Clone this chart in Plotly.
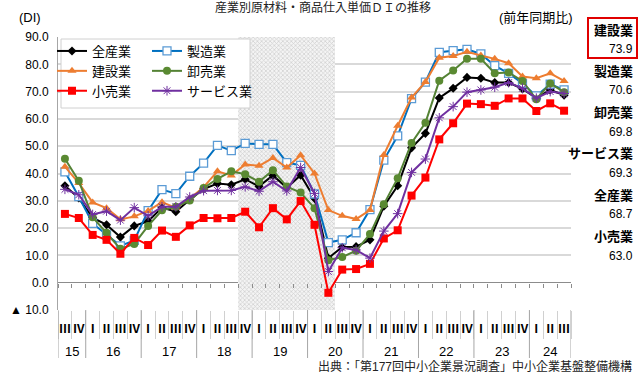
import plotly.graph_objects as go

# ---------------- data ----------------
years = ["15", "16", "17", "18", "19", "20", "21", "22", "23", "24"]
quarter_names = ["Ⅰ", "Ⅱ", "Ⅲ", "Ⅳ"]
first_quarter = 2          # series starts at 2015 Ⅲ
n_points = 37              # ... and ends at 2024 Ⅲ

zensangyo = [35.5, 31.0, 23.8, 21.2, 16.7, 20.8, 22.5, 27.5, 26.0, 30.4, 34.3, 36.3, 35.9,
             37.9, 35.3, 39.3, 34.8, 39.4, 30.9, 9.0, 13.1, 13.2, 15.7, 28.0, 35.5, 49.4,
             54.7, 67.7, 71.2, 75.2, 74.9, 73.3, 73.3, 71.0, 67.6, 70.6, 68.7]
seizo = [40.6, 31.5, 21.7, 17.5, 13.5, 15.5, 26.4, 34.1, 32.6, 39.0, 43.8, 50.3, 48.4,
         51.0, 50.7, 50.7, 44.0, 43.0, 32.5, 14.7, 15.7, 18.3, 26.8, 44.9, 53.8, 67.4,
         73.5, 84.4, 85.0, 85.5, 83.8, 79.5, 76.7, 73.0, 68.4, 72.7, 70.6]
kensetsu = [42.5, 36.5, 29.4, 27.3, 23.2, 24.3, 26.3, 29.5, 27.4, 30.8, 35.0, 40.8, 39.3,
            43.3, 42.8, 45.7, 42.2, 46.7, 40.0, 26.6, 24.5, 23.3, 26.6, 46.8, 57.5, 67.8,
            73.5, 82.4, 83.0, 84.6, 83.2, 82.0, 80.4, 75.5, 74.9, 76.7, 73.9]
oroshiuri = [45.4, 37.3, 24.0, 18.3, 12.4, 14.2, 20.8, 26.5, 27.8, 30.1, 34.7, 38.0, 40.8,
             39.7, 37.0, 41.2, 35.2, 33.0, 27.3, 8.2, 9.4, 11.7, 17.8, 28.7, 38.3, 51.2,
             58.6, 74.0, 77.7, 82.0, 82.0, 76.7, 77.0, 73.9, 67.2, 73.0, 69.8]
kouri = [25.2, 23.7, 17.5, 15.7, 10.6, 16.4, 13.8, 19.1, 16.8, 21.0, 23.7, 23.6, 23.7,
         26.0, 20.3, 27.3, 23.2, 29.9, 21.2, -3.7, 4.8, 5.0, 6.9, 16.2, 19.2, 31.9,
         38.5, 52.5, 58.4, 65.6, 65.4, 64.8, 67.5, 67.5, 62.9, 65.7, 63.0]
service = [34.2, 32.2, 25.0, 26.2, 22.9, 27.5, 24.5, 27.8, 27.8, 31.4, 33.7, 33.8, 33.8,
           35.1, 33.5, 37.0, 33.6, 42.2, 32.7, 4.1, 12.8, 12.0, 9.0, 18.9, 25.3, 40.4,
           45.3, 60.4, 64.5, 69.8, 70.6, 71.6, 73.3, 71.2, 67.6, 70.0, 69.3]

recession_start = ("18", "Ⅳ")
recession_end = ("20", "Ⅱ")

y_tick_values = [90, 80, 70, 60, 50, 40, 30, 20, 10, 0, -10]
y_tick_text = ["90.0", "80.0", "70.0", "60.0", "50.0", "40.0", "30.0", "20.0", "10.0", "0.0", "▲ 10.0"]

title_text = "産業別原材料・商品仕入単価ＤＩの推移"
source_text = "出典：「第177回中小企業景況調査」中小企業基盤整備機構"

# ---------------- build ----------------
year_lab, q_lab = [], []
for k in range(n_points):
    year_lab.append(years[(first_quarter + k) // 4])
    q_lab.append(quarter_names[(first_quarter + k) % 4])
pairs = list(zip(year_lab, q_lab))
i0 = pairs.index(recession_start)
i1 = pairs.index(recession_end)
xi = list(range(n_points))

FONT = "Liberation Sans, Noto Sans CJK JP, sans-serif"

fig = go.Figure()

# recession shading (hatched)
sh = list(range(i0, i1 + 1))
fig.add_trace(go.Bar(
    x=sh, y=[100] * len(sh), base=-10, width=1,
    marker=dict(color="#ffffff", line_width=0,
                pattern=dict(shape="x", size=3, solidity=0.4,
                             fgcolor="#a8a8a8", bgcolor="#f4f4f4")),
    showlegend=False, hoverinfo="skip"))

series = [
    ("全産業", zensangyo, "#000000", dict(symbol="diamond", size=7, color="#000000"), "legend"),
    ("製造業", seizo, "#0070C0", dict(symbol="square", size=8, color="#ffffff",
                                      line=dict(color="#5B9BD5", width=1.3)), "legend2"),
    ("建設業", kensetsu, "#ED7D31", dict(symbol="triangle-up", size=8, color="#ED7D31"), "legend"),
    ("卸売業", oroshiuri, "#548235", dict(symbol="circle", size=8, color="#5A8A32"), "legend2"),
    ("小売業", kouri, "#FF0000", dict(symbol="square", size=8, color="#FF0000"), "legend"),
    ("サービス業", service, "#7030A0", dict(symbol="asterisk-open", size=8,
                                          line=dict(color="#9966CC", width=1)), "legend2"),
]
for name, vals, col, mk, lg in series:
    fig.add_trace(go.Scatter(
        x=xi, y=vals, name=name, mode="lines+markers",
        line=dict(color=col, width=2), marker=mk, legend=lg))

# helper axes: quarter separators in label row, ticks on zero line
fig.add_trace(go.Scatter(x=[None], y=[None], xaxis="x2", showlegend=False, hoverinfo="skip"))
fig.add_trace(go.Scatter(x=[None], y=[None], xaxis="x3", showlegend=False, hoverinfo="skip"))

L, R, T, B = 58, 69, 37, 64
W, H = 640, 374
pw, ph = W - L - R, H - T - B


def px(xp):
    return (xp - L) / pw


def py(yp):
    return (H - B - yp) / ph


xr = [-0.5, n_points - 0.5]
fig.update_layout(
    width=W, height=H, margin=dict(l=L, r=R, t=T, b=B, autoexpand=False),
    plot_bgcolor="white", paper_bgcolor="white",
    font=dict(family=FONT, size=12, color="#000000"),
    bargap=0,
    xaxis=dict(range=xr, tickmode="array", tickvals=xi, ticktext=q_lab, tickangle=0,
               showgrid=False, ticks="", showline=False, zeroline=False, automargin=False,
               tickfont=dict(size=12, weight="bold"), ticklabelstandoff=10),
    xaxis2=dict(overlaying="x", anchor="free", position=0, range=xr,
                tickmode="linear", tick0=-0.5, dtick=1, ticks="outside", ticklen=28,
                tickcolor="#d0d0d0", showticklabels=False, showgrid=False,
                zeroline=False, showline=False, automargin=False),
    xaxis3=dict(overlaying="x", anchor="free", position=10 / 100, range=xr,
                tickmode="linear", tick0=-0.5, dtick=1, ticks="outside", ticklen=4,
                tickcolor="#8c8c8c", showticklabels=False, showgrid=False,
                zeroline=False, showline=False, automargin=False),
    yaxis=dict(range=[-10, 90], tickvals=y_tick_values, ticktext=y_tick_text,
               showgrid=True, gridcolor="#d9d9d9", gridwidth=1.5,
               zeroline=True, zerolinecolor="#8c8c8c", zerolinewidth=1,
               showline=True, linecolor="#a6a6a6", linewidth=1, automargin=False,
               tickfont=dict(size=12), ticks="", ticklabelstandoff=6),
    legend=dict(x=px(52), y=py(36), xanchor="left", yanchor="top",
                bgcolor="rgba(0,0,0,0)", font=dict(size=13), tracegroupgap=0,
                itemwidth=30),
    legend2=dict(x=px(147), y=py(36), xanchor="left", yanchor="top",
                 bgcolor="rgba(0,0,0,0)", font=dict(size=13), tracegroupgap=0,
                 itemwidth=30),
    showlegend=True,
)

# legend box
fig.add_shape(type="rect", xref="paper", yref="paper",
              x0=px(61), x1=px(250), y0=py(108), y1=py(39),
              fillcolor="white", line=dict(color="#d0d0d0", width=1), layer="above")

# red box around top right label
fig.add_shape(type="rect", xref="paper", yref="paper",
              x0=px(588), x1=px(637), y0=py(58), y1=py(18),
              line=dict(color="#E00000", width=2), fillcolor="rgba(0,0,0,0)")

# year dividers in the label area
bounds = [-0.5] + [k - 0.5 for k in range(1, n_points) if year_lab[k] != year_lab[k - 1]] + [n_points - 0.5]
for b in bounds:
    fig.add_shape(type="line", xref="x", yref="paper", x0=b, x1=b,
                  y0=py(310), y1=py(358), line=dict(color="#a6a6a6", width=1))

anns = [
    dict(text=title_text, x=px(323), y=py(8), font=dict(size=12, color="#222222"), xanchor="center"),
    dict(text="(DI)", x=px(17), y=py(17), font=dict(size=13), xanchor="left"),
    dict(text="(前年同期比)", x=px(575), y=py(17), font=dict(size=13), xanchor="right"),
    dict(text=source_text, x=px(634), y=py(366), font=dict(size=12, color="#222222"), xanchor="right"),
]

# year labels centred under their quarters
for yr in years:
    idx = [k for k in xi if year_lab[k] == yr]
    anns.append(dict(text=yr, xref="x", x=sum(idx) / len(idx), y=py(351),
                     font=dict(size=13), xanchor="center"))

# right labels: sorted by latest value
latest = sorted([(s[1][-1], s[0]) for s in series], reverse=True)
for k, (v, name) in enumerate(latest):
    yname = 30 + 41.3 * k
    anns.append(dict(text=name, x=px(635), y=py(yname), xanchor="right",
                     font=dict(size=13, weight="bold")))
    anns.append(dict(text=f"{v:.1f}", x=px(635), y=py(yname + 19), xanchor="right",
                     font=dict(size=12)))

for a in anns:
    a.setdefault("xref", "paper")
    a.update(yref="paper", showarrow=False, yanchor="middle")
    fig.add_annotation(**a)

fig.write_html("out.html", config={"displayModeBar": False},
               post_script="document.body.style.margin='0px';document.body.style.overflow='hidden';")
